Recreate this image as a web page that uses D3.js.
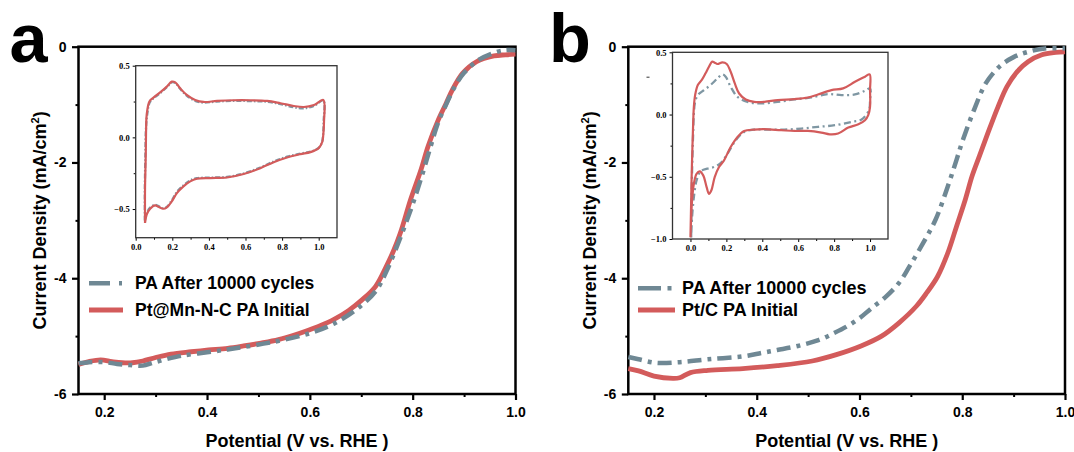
<!DOCTYPE html>
<html><head><meta charset="utf-8">
<script src="https://cdn.jsdelivr.net/npm/d3@7"></script>
<style>
html,body{margin:0;padding:0;background:#fff;}
svg{display:block;}
</style></head>
<body>
<svg id="c" width="1074" height="452"></svg>
<script>
// ---------------- DATA ----------------
const mainXTicks = [0.2, 0.4, 0.6, 0.8, 1.0];
const mainXMinor = [0.3, 0.5, 0.7, 0.9];
const mainYTicks = [0, -2, -4, -6];
const mainYMinor = [-1, -3, -5];
const insetXTicks = [0.0, 0.2, 0.4, 0.6, 0.8, 1.0];
const insetXMinor = [0.1, 0.3, 0.5, 0.7, 0.9];
const insetAYTicks = [0.5, 0.0, -0.5];
const insetAYMinor = [0.25, -0.25];
const insetBYTicks = [0.5, 0.0, -0.5, -1.0];
const insetBYMinor = [0.25, -0.25, -0.75];

const panelLabels = ["a", "b"];
const legendA = ["PA After 10000 cycles", "Pt@Mn-N-C PA Initial"];
const legendB = ["PA After 10000 cycles", "Pt/C PA Initial"];
const xTitle = "Potential (V vs. RHE )";

// LSV, panel a  [V, mA/cm2]
const lsvA_initial = [[0.15,-5.49],[0.17,-5.44],[0.193,-5.41],[0.215,-5.44],[0.235,-5.46],[0.255,-5.46],[0.275,-5.43],[0.3,-5.37],[0.33,-5.31],[0.369,-5.27],[0.403,-5.24],[0.44,-5.21],[0.471,-5.17],[0.505,-5.12],[0.539,-5.06],[0.57,-4.98],[0.593,-4.91],[0.62,-4.82],[0.647,-4.71],[0.675,-4.56],[0.702,-4.37],[0.728,-4.14],[0.749,-3.79],[0.763,-3.52],[0.776,-3.22],[0.796,-2.64],[0.816,-2.13],[0.83,-1.72],[0.85,-1.26],[0.865,-0.98],[0.877,-0.75],[0.897,-0.46],[0.924,-0.26],[0.958,-0.16],[0.98,-0.14],[1.0,-0.13]];
const lsvA_after = [[0.15,-5.47],[0.17,-5.45],[0.2,-5.45],[0.225,-5.48],[0.25,-5.50],[0.275,-5.51],[0.295,-5.46],[0.32,-5.40],[0.35,-5.34],[0.4,-5.28],[0.44,-5.23],[0.47,-5.19],[0.51,-5.13],[0.54,-5.08],[0.6,-4.95],[0.65,-4.77],[0.7,-4.47],[0.73,-4.2],[0.75,-3.86],[0.776,-3.3],[0.8,-2.72],[0.82,-2.17],[0.835,-1.72],[0.85,-1.3],[0.865,-1.0],[0.88,-0.72],[0.9,-0.45],[0.93,-0.22],[0.96,-0.1],[0.98,-0.06],[1.0,-0.06]];

// LSV, panel b
const lsvB_initial = [[0.15,-5.56],[0.17,-5.6],[0.2,-5.69],[0.237,-5.73],[0.25,-5.72],[0.271,-5.63],[0.305,-5.59],[0.373,-5.56],[0.44,-5.51],[0.508,-5.43],[0.555,-5.32],[0.603,-5.17],[0.643,-5.0],[0.677,-4.77],[0.711,-4.48],[0.731,-4.25],[0.752,-3.97],[0.772,-3.56],[0.789,-3.1],[0.806,-2.64],[0.819,-2.24],[0.833,-1.9],[0.85,-1.49],[0.87,-1.03],[0.887,-0.69],[0.907,-0.43],[0.928,-0.26],[0.955,-0.14],[0.982,-0.1],[1.0,-0.09]];
const lsvB_after = [[0.15,-5.36],[0.17,-5.4],[0.203,-5.46],[0.25,-5.45],[0.305,-5.4],[0.373,-5.35],[0.41,-5.29],[0.44,-5.24],[0.48,-5.17],[0.52,-5.07],[0.55,-4.95],[0.576,-4.83],[0.6,-4.69],[0.623,-4.52],[0.65,-4.33],[0.677,-4.08],[0.697,-3.8],[0.724,-3.39],[0.748,-2.99],[0.772,-2.41],[0.789,-1.95],[0.799,-1.67],[0.823,-1.09],[0.846,-0.63],[0.873,-0.34],[0.9,-0.18],[0.928,-0.09],[0.961,-0.03],[1.0,-0.03]];

// CV insets [V, mA]
const cvA_initial = [[0.051,-0.597],[0.051,-0.354],[0.055,-0.122],[0.057,0.064],[0.06,0.157],[0.075,0.25],[0.097,0.277],[0.133,0.314],[0.17,0.354],[0.197,0.389],[0.216,0.384],[0.243,0.342],[0.279,0.296],[0.325,0.261],[0.371,0.247],[0.444,0.254],[0.535,0.259],[0.626,0.259],[0.718,0.254],[0.791,0.238],[0.864,0.219],[0.919,0.212],[0.974,0.226],[1.025,0.261],[1.029,0.11],[1.025,0.017],[1.019,-0.034],[1.0,-0.075],[0.955,-0.103],[0.9,-0.117],[0.827,-0.14],[0.754,-0.173],[0.681,-0.215],[0.59,-0.256],[0.499,-0.28],[0.407,-0.284],[0.334,-0.289],[0.298,-0.307],[0.261,-0.342],[0.225,-0.389],[0.197,-0.447],[0.17,-0.488],[0.152,-0.498],[0.124,-0.484],[0.106,-0.474],[0.079,-0.498],[0.06,-0.539],[0.051,-0.597]];
const cvA_after = [[0.05,-0.58],[0.05,-0.35],[0.053,-0.12],[0.056,0.06],[0.062,0.15],[0.077,0.245],[0.1,0.275],[0.135,0.31],[0.17,0.35],[0.2,0.385],[0.218,0.378],[0.245,0.335],[0.28,0.29],[0.325,0.255],[0.37,0.243],[0.444,0.25],[0.535,0.255],[0.626,0.253],[0.718,0.248],[0.791,0.232],[0.864,0.21],[0.919,0.203],[0.974,0.22],[1.025,0.257],[1.027,0.11],[1.024,0.017],[1.018,-0.034],[1.0,-0.073],[0.955,-0.1],[0.9,-0.113],[0.827,-0.135],[0.754,-0.168],[0.681,-0.21],[0.59,-0.252],[0.499,-0.276],[0.407,-0.281],[0.334,-0.285],[0.298,-0.3],[0.261,-0.335],[0.225,-0.38],[0.197,-0.44],[0.17,-0.485],[0.152,-0.495],[0.124,-0.48],[0.106,-0.47],[0.079,-0.49],[0.06,-0.53],[0.05,-0.58]];
const cvB_initial = [[0.0,-0.987],[0.004,-0.69],[0.007,-0.476],[0.011,-0.26],[0.015,-0.073],[0.019,0.062],[0.026,0.156],[0.041,0.237],[0.065,0.282],[0.084,0.331],[0.103,0.384],[0.121,0.425],[0.135,0.417],[0.15,0.406],[0.178,0.419],[0.202,0.406],[0.224,0.344],[0.247,0.25],[0.271,0.169],[0.308,0.121],[0.355,0.102],[0.411,0.102],[0.486,0.116],[0.579,0.124],[0.654,0.137],[0.71,0.161],[0.785,0.196],[0.85,0.21],[0.916,0.263],[0.972,0.304],[0.998,0.323],[1.0,0.196],[1.0,0.062],[0.99,-0.005],[0.972,-0.046],[0.935,-0.078],[0.879,-0.105],[0.822,-0.153],[0.776,-0.159],[0.729,-0.145],[0.654,-0.132],[0.579,-0.132],[0.505,-0.126],[0.411,-0.118],[0.355,-0.121],[0.299,-0.132],[0.262,-0.18],[0.224,-0.261],[0.187,-0.368],[0.159,-0.422],[0.135,-0.503],[0.116,-0.61],[0.103,-0.637],[0.09,-0.583],[0.071,-0.489],[0.052,-0.457],[0.034,-0.476],[0.019,-0.556],[0.009,-0.69],[0.004,-0.825],[0.0,-0.987]];
const cvB_after = [[0.004,-0.987],[0.007,-0.61],[0.011,-0.341],[0.015,-0.153],[0.019,0.008],[0.026,0.102],[0.041,0.156],[0.075,0.196],[0.112,0.237],[0.15,0.29],[0.178,0.323],[0.196,0.304],[0.224,0.223],[0.262,0.142],[0.318,0.102],[0.393,0.089],[0.486,0.102],[0.579,0.121],[0.673,0.137],[0.766,0.164],[0.841,0.156],[0.916,0.161],[0.972,0.191],[1.0,0.21],[1.0,0.116],[0.994,0.035],[0.953,-0.04],[0.897,-0.059],[0.804,-0.086],[0.71,-0.099],[0.617,-0.113],[0.523,-0.121],[0.43,-0.121],[0.355,-0.121],[0.299,-0.14],[0.252,-0.207],[0.206,-0.315],[0.168,-0.39],[0.131,-0.422],[0.093,-0.435],[0.056,-0.457],[0.034,-0.53],[0.019,-0.664],[0.009,-0.825],[0.004,-0.987]];

// ---------------- STYLE / LAYOUT ----------------
const RED = "#d35b5b", GRAY = "#6f8894", GRAY_IN = "#7f97a3";
const FONT = "'Liberation Sans', Arial, Helvetica, sans-serif";
const SERIF = "'Liberation Serif', 'Times New Roman', serif";
const svg = d3.select("#c");
const fmt1 = d3.format(".1f");

const panels = [
  { label: panelLabels[0], lx: 9.5, x0: 78.5, x1: 515.5, y0: 46.7, y1: 394,
    after: lsvA_after, initial: lsvA_initial, names: legendA,
    leg: { lx0: 89, lx1: 123, ly1: 283.3, ly2: 310, tx: 135, ty1: 289.3, ty2: 316, fs: 17.5, dash: "21,9,3,10" },
    inset: { x0: 135.7, x1: 337, y0: 65.7, y1: 237.7, xd: [0, 1.1], yd: [-0.7, 0.5],
             yt: insetAYTicks, ym: insetAYMinor, after: cvA_after, initial: cvA_initial, dash: "5,2,1.5,2" } },
  { label: panelLabels[1], lx: 549, x0: 628.3, x1: 1065, y0: 46.7, y1: 394,
    after: lsvB_after, initial: lsvB_initial, names: legendB,
    leg: { lx0: 638, lx1: 675, ly1: 288.3, ly2: 310, tx: 682, ty1: 294.3, ty2: 316, fs: 18, dash: "23,6.5,4,10" },
    inset: { x0: 672.5, x1: 888, y0: 52.3, y1: 239, xd: [-0.1, 1.1], yd: [-1.0, 0.5],
             yt: insetBYTicks, ym: insetBYMinor, after: cvB_after, initial: cvB_initial, dash: "7,3.5,2,3.5", artifact: true } }
];

function styleAxis(sel, fs, family, sw) {
  sel.attr("font-size", fs).attr("font-family", family).attr("font-weight", "bold");
  sel.selectAll("text").attr("fill", "#000");
  sel.selectAll("line").attr("stroke", "#000").attr("stroke-width", sw);
  sel.select(".domain").remove();
}

panels.forEach(p => {
  const g = svg.append("g");
  const x = d3.scaleLinear().domain([0.15, 1.0]).range([p.x0, p.x1]);
  const y = d3.scaleLinear().domain([-6, 0]).range([p.y1, p.y0]);

  // panel label
  g.append("text").attr("x", p.lx).attr("y", 62).attr("font-family", FONT)
    .attr("font-weight", "bold").attr("font-size", 68.5).text(p.label);

  // axes
  g.append("g").attr("transform", `translate(0,${p.y1})`)
    .call(d3.axisBottom(x).tickValues(mainXMinor).tickSize(3).tickFormat(""))
    .call(s => styleAxis(s, 14, FONT, 2));
  g.append("g").attr("transform", `translate(0,${p.y1})`)
    .call(d3.axisBottom(x).tickValues(mainXTicks).tickSize(6).tickPadding(7).tickFormat(fmt1))
    .call(s => styleAxis(s, 14, FONT, 2.2));
  g.append("g").attr("transform", `translate(${p.x0},0)`)
    .call(d3.axisLeft(y).tickValues(mainYMinor).tickSize(3).tickFormat(""))
    .call(s => styleAxis(s, 14, FONT, 2));
  g.append("g").attr("transform", `translate(${p.x0},0)`)
    .call(d3.axisLeft(y).tickValues(mainYTicks).tickSize(6.5).tickPadding(5.5).tickFormat(d => String(d)))
    .call(s => styleAxis(s, 14, FONT, 2.2));

  // frame
  g.append("rect").attr("x", p.x0).attr("y", p.y0).attr("width", p.x1 - p.x0).attr("height", p.y1 - p.y0)
    .attr("fill", "none").attr("stroke", "#000").attr("stroke-width", 2.5);

  // titles
  g.append("text").attr("x", (p.x0 + p.x1) / 2).attr("y", 447).attr("text-anchor", "middle")
    .attr("font-family", FONT).attr("font-weight", "bold").attr("font-size", 18).text(xTitle);
  const yt = g.append("text").attr("transform", `translate(${p.x0 - 32.5},${(p.y0 + p.y1) / 2}) rotate(-90)`)
    .attr("text-anchor", "middle").attr("font-family", FONT).attr("font-weight", "bold").attr("font-size", 18);
  yt.append("tspan").text("Current Density (mA/cm");
  yt.append("tspan").attr("font-size", 11).attr("dy", -7).text("2");
  yt.append("tspan").attr("dy", 7).text(")");

  // LSV curves
  const line = d3.line().x(d => x(d[0])).y(d => y(d[1])).curve(d3.curveCatmullRom.alpha(0.5));
  g.append("path").datum(p.initial).attr("d", line).attr("fill", "none")
    .attr("stroke", RED).attr("stroke-width", 4.8).attr("stroke-linejoin", "round");
  g.append("path").datum(p.after).attr("d", line).attr("fill", "none")
    .attr("stroke", GRAY).attr("stroke-width", 4.5).attr("stroke-dasharray", "14,6,4,6");

  // legend
  const L = p.leg;
  g.append("line").attr("x1", L.lx0).attr("x2", L.lx1).attr("y1", L.ly1).attr("y2", L.ly1)
    .attr("stroke", GRAY).attr("stroke-width", 4.5).attr("stroke-dasharray", L.dash);
  g.append("line").attr("x1", L.lx0).attr("x2", L.lx1).attr("y1", L.ly2).attr("y2", L.ly2)
    .attr("stroke", RED).attr("stroke-width", 4.8);
  g.append("text").attr("x", L.tx).attr("y", L.ty1).attr("font-family", FONT).attr("font-weight", "bold")
    .attr("font-size", L.fs).text(p.names[0]);
  g.append("text").attr("x", L.tx).attr("y", L.ty2).attr("font-family", FONT).attr("font-weight", "bold")
    .attr("font-size", L.fs).text(p.names[1]);

  // inset
  const I = p.inset;
  const ix = d3.scaleLinear().domain(I.xd).range([I.x0, I.x1]);
  const iy = d3.scaleLinear().domain(I.yd).range([I.y1, I.y0]);
  g.append("rect").attr("x", I.x0).attr("y", I.y0).attr("width", I.x1 - I.x0).attr("height", I.y1 - I.y0)
    .attr("fill", "#fff");
  g.append("g").attr("transform", `translate(0,${I.y1})`)
    .call(d3.axisBottom(ix).tickValues(insetXMinor).tickSize(2).tickFormat(""))
    .call(s => styleAxis(s, 8.5, SERIF, 1));
  g.append("g").attr("transform", `translate(0,${I.y1})`)
    .call(d3.axisBottom(ix).tickValues(insetXTicks).tickSize(3).tickPadding(3).tickFormat(fmt1))
    .call(s => styleAxis(s, 8.5, SERIF, 1));
  g.append("g").attr("transform", `translate(${I.x0},0)`)
    .call(d3.axisLeft(iy).tickValues(I.ym).tickSize(2).tickFormat(""))
    .call(s => styleAxis(s, 8.5, SERIF, 1));
  g.append("g").attr("transform", `translate(${I.x0},0)`)
    .call(d3.axisLeft(iy).tickValues(I.yt).tickSize(3).tickPadding(3).tickFormat(fmt1))
    .call(s => styleAxis(s, 8.5, SERIF, 1));
  g.append("rect").attr("x", I.x0).attr("y", I.y0).attr("width", I.x1 - I.x0).attr("height", I.y1 - I.y0)
    .attr("fill", "none").attr("stroke", "#333").attr("stroke-width", 1.3);
  if (I.artifact) {
    g.append("line").attr("x1", I.x0 - 26).attr("x2", I.x0 - 23).attr("y1", iy(0.3)).attr("y2", iy(0.3))
      .attr("stroke", "#333").attr("stroke-width", 1);
  }
  const iline = d3.line().x(d => ix(d[0])).y(d => iy(d[1])).curve(d3.curveCatmullRom.alpha(0.5));
  g.append("path").datum(I.after).attr("d", iline).attr("fill", "none")
    .attr("stroke", GRAY_IN).attr("stroke-width", 2.3).attr("stroke-dasharray", I.dash);
  g.append("path").datum(I.initial).attr("d", iline).attr("fill", "none")
    .attr("stroke", RED).attr("stroke-width", 2.2).attr("stroke-linejoin", "round");
});
</script>
</body></html>
